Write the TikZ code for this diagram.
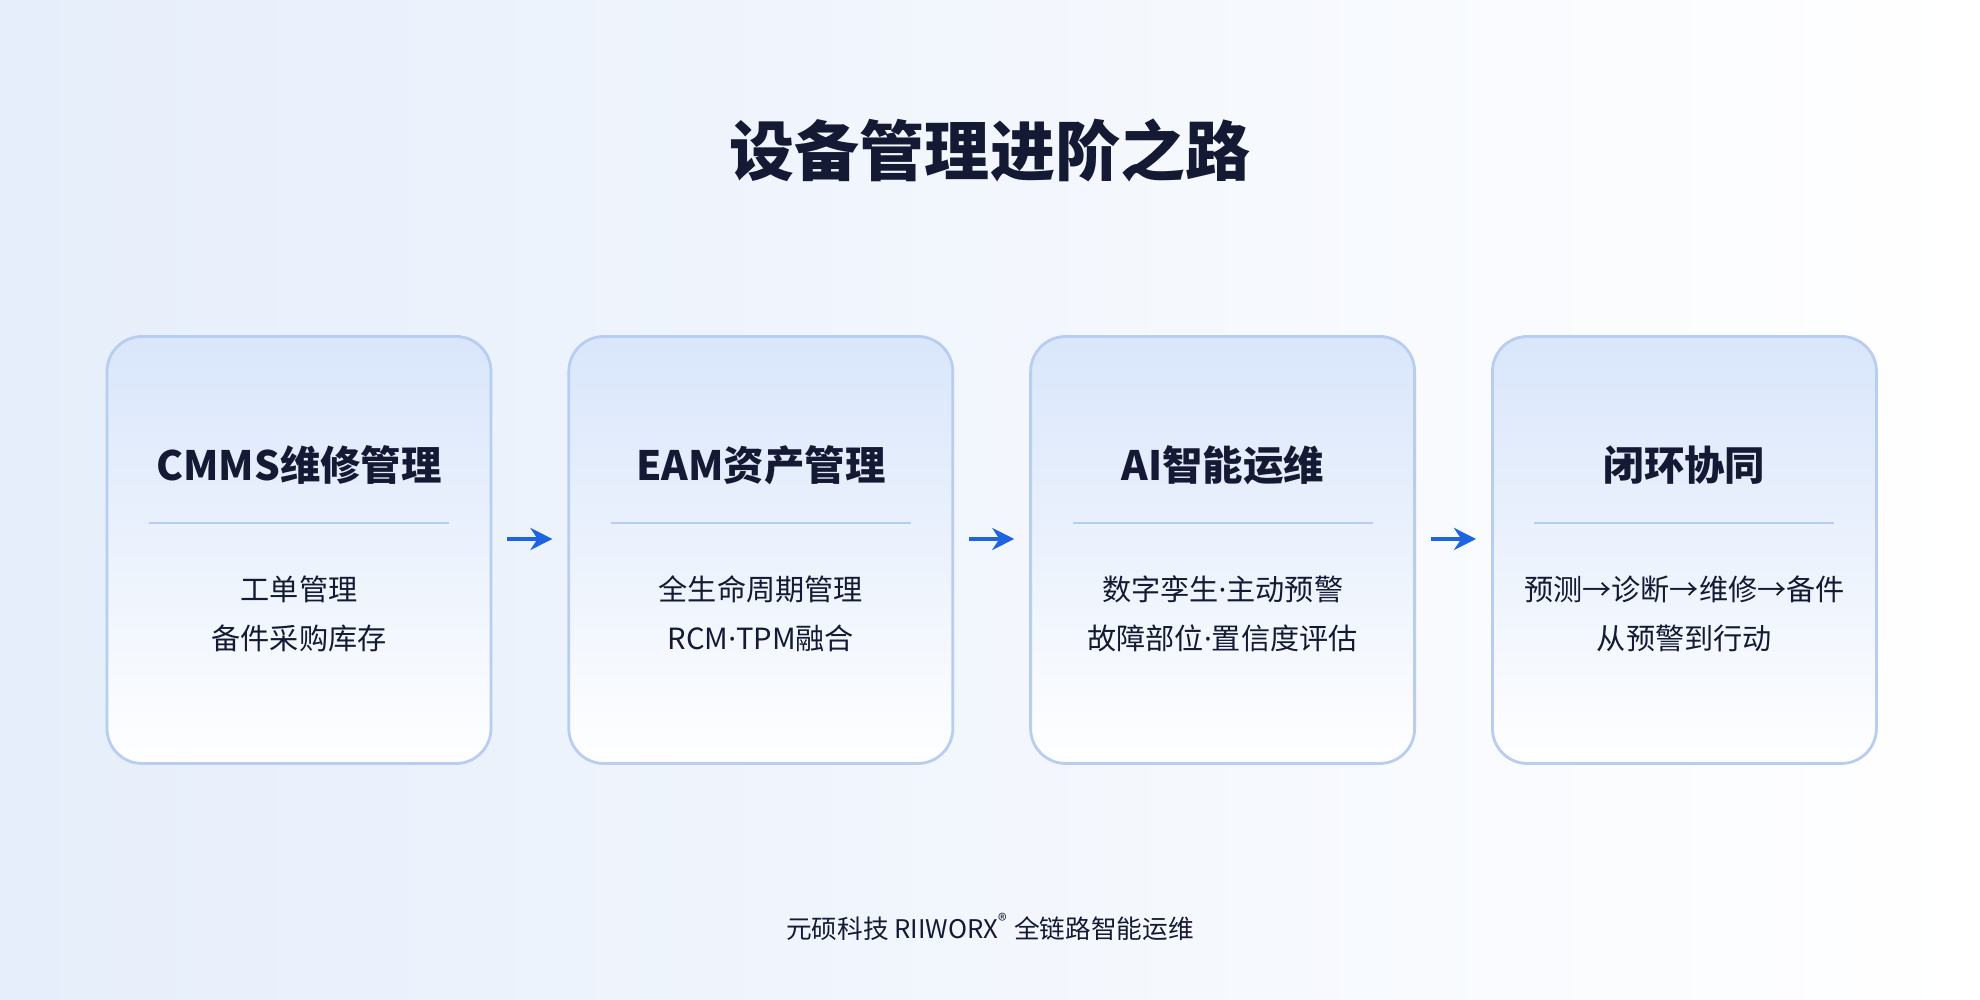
\documentclass[tikz,border=0pt]{standalone}
\usepackage{fontspec}
\setmainfont{Noto Sans CJK SC}
\newfontfamily\latin{Noto Sans}
\usepackage{tikz}
\usetikzlibrary{positioning,calc,arrows.meta}
\definecolor{ink}{HTML}{141A33}
\definecolor{edge}{HTML}{B9CDF0}
\definecolor{topblue}{HTML}{D9E6FB}
\definecolor{bgblue}{HTML}{E6EEFB}
\definecolor{arrowblue}{HTML}{1E63E0}
\definecolor{rule}{HTML}{B7CCF2}
\newcommand{\mdot}{{\latin ·}}
\begin{document}
\begin{tikzpicture}[
    stage/.style={rectangle, draw=edge, line width=0.8pt, rounded corners=0.35cm, minimum width=3.84cm, minimum height=4.27cm, top color=topblue, bottom color=white!97!bgblue},
    head/.style={font=\bfseries\fontsize{11.5}{13}\selectfont, text=ink},
    body/.style={font=\fontsize{8.3}{14}\selectfont, text=ink, align=center},
    flow/.style={-{Stealth[length=2.2mm,width=2.2mm]}, draw=arrowblue, line width=1.4pt}
]
    % background
    \fill[left color=bgblue, right color=white] (0,0) rectangle (19.8,10);
    \useasboundingbox (0,0) rectangle (19.8,10);

    \node[font=\bfseries\fontsize{18.5}{20}\selectfont, text=ink] (title) at (9.9,8.5) {设备管理进阶之路};

    % stages
    \node[stage] (s1) at (2.99,4.5) {};
    \node[stage, right=0.75cm of s1] (s2) {};
    \node[stage, right=0.75cm of s2] (s3) {};
    \node[stage, right=0.75cm of s3] (s4) {};

    \foreach \s/\h/\b in {s1/CMMS维修管理/{工单管理\\备件采购库存},
                          s2/EAM资产管理/{全生命周期管理\\RCM\mdot TPM融合},
                          s3/AI智能运维/{数字孪生\mdot 主动预警\\故障部位\mdot 置信度评估},
                          s4/闭环协同/{预测→诊断→维修→备件\\从预警到行动}} {
        \node[head] (\s-h) at ($(\s.center)+(0,0.85)$) {\h};
        \draw[rule, line width=0.5pt] ($(\s.center)+(-1.5,0.27)$) -- ($(\s.center)+(1.5,0.27)$);
        \node[body] (\s-b) at ($(\s.center)+(0,-0.64)$) {\b};
    }

    \draw[flow] ($(s1.east)+(0.15,0.11)$) -- ($(s2.west)+(-0.15,0.11)$);
    \draw[flow] ($(s2.east)+(0.15,0.11)$) -- ($(s3.west)+(-0.15,0.11)$);
    \draw[flow] ($(s3.east)+(0.15,0.11)$) -- ($(s4.west)+(-0.15,0.11)$);

    \node[font=\fontsize{7.3}{9}\selectfont, text=ink] (foot) at (9.9,0.73) {元硕科技 RIIWORX\textsuperscript{®} 全链路智能运维};
\end{tikzpicture}
\end{document}
